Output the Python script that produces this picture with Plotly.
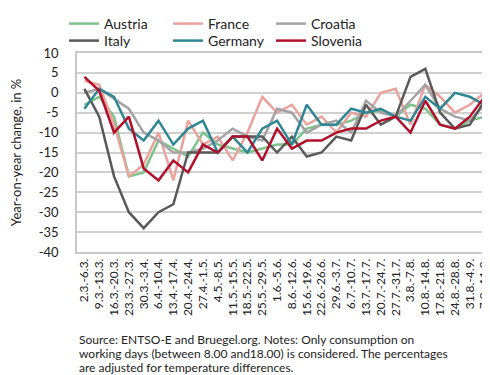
import plotly.graph_objects as go

categories = ["2.3.-6.3.", "9.3.-13.3.", "16.3.-20.3.", "23.3.-27.3.", "30.3.-3.4.", "6.4.-10.4.",
              "13.4.-17.4.", "20.4.-24.4.", "27.4.-1.5.", "4.5.-8.5.", "11.5.-15.5.", "18.5.-22.5.",
              "25.5.-29.5.", "1.6.-5.6.", "8.6.-12.6.", "15.6.-19.6.", "22.6.-26.6.", "29.6.-3.7.",
              "6.7.-10.7.", "13.7.-17.7.", "20.7.-24.7.", "27.7.-31.7.", "3.8.-7.8.", "10.8.-14.8.",
              "17.8.-21.8.", "24.8.-28.8.", "31.8.-4.9.", "7.9.-11.9."]

austria = [-3, -1, -6, -21, -20, -12, -14, -16, -10, -13, -14, -15, -14, -13, -13, -9, -8, -8,
           -7, -5, -4.5, -6, -3, -4, -8, -9, -7, -6]
france = [3, 2, -8, -21, -18, -10, -22, -7, -13, -11, -17, -10, -1, -5, -3, -8, -6, -10,
          -5, -6, 0, 1, -8, 2, -1, -5, -3, 0]
croatia = [0, 1, -1.5, -4, -10, -12, -15, -15, -14, -12, -9, -11, -12, -4, -5, -10, -8, -7,
           -10, -2, -5, -6, -2, 2, -4, -6, -7, -3]
italy = [1, -6, -21, -30, -34, -30, -28, -15, -15, -15, -11, -11, -11, -15, -11, -16, -15, -11,
         -12, -3, -8, -6, 4, 6, -5, -9, -8, -2]
germany = [-4, 1, -1, -9, -12, -7, -13, -9, -7, -15, -11, -15, -9, -7, -13, -3, -8, -8,
           -4, -5, -4, -6, -7, -1, -4, 0, -1, -3]
slovenia = [4, 0.5, -10, -6, -19, -22, -17, -20, -13, -15, -11, -11, -17, -9, -14, -12, -12, -10,
            -9, -9, -7, -6, -10, -2, -8, -9, -6, -1]

y_ticks = [10, 5, 0, -5, -10, -15, -20, -25, -30, -35, -40]
y_ticklabels = ["10", "5", "0", "-5", "-10", "-15", "-20", "-25", "-30", "-35", "-40"]

note_lines = [
    "Source: ENTSO-E and Bruegel.org. Notes: Only consumption on",
    "working days (between 8.00 and18.00) is considered. The percentages",
    "are adjusted for temperature differences.",
]

series_names = ["Austria", "France", "Croatia", "Italy", "Germany", "Slovenia"]
series_values = [austria, france, croatia, italy, germany, slovenia]
series_colors = ["#7dc48c", "#e9a39d", "#a3a3a3", "#595959", "#2f8795", "#b1102b"]

FONT = "Lato"
W, H = 490, 375
ML, MR, MT, MB = 69, 6, 0, 131
PLOT_TOP = 45
paper_h = H - MT - MB          # 244
plot_w = W - ML - MR           # 415


def py(pix):
    """pixel row -> paper y"""
    return (H - MB - pix) / paper_h


def px(pix):
    return (pix - ML) / plot_w


# legend slot layout: 3 columns x 2 rows (pixel left edge / top edge of each legend box)
legend_cols = [56, 160, 263]
legend_rows = [0, 17]

fig = go.Figure()
layout_legends = {}
for i, (name, vals, col) in enumerate(zip(series_names, series_values, series_colors)):
    lg = "legend" if i == 0 else f"legend{i + 1}"
    fig.add_trace(go.Scatter(x=categories, y=vals, mode="lines", name=name, legend=lg,
                             line=dict(color=col, width=2.5)))
    layout_legends[lg] = dict(
        orientation="h", xanchor="left", yanchor="top", xref="paper", yref="paper",
        x=px(legend_cols[i % 3]), y=py(legend_rows[i // 3]),
        font=dict(size=14, family=FONT, color="#222222"),
        itemwidth=30, bgcolor="rgba(0,0,0,0)")

fig.update_layout(
    width=W, height=H,
    margin=dict(l=ML, r=MR, t=MT, b=MB),
    paper_bgcolor="white", plot_bgcolor="white",
    font=dict(family=FONT, color="#222222", size=12),
    showlegend=True,
    **layout_legends,
    xaxis=dict(type="category", range=[-0.5, 27.5], tickangle=-90,
               tickfont=dict(size=12, family=FONT, color="#222222"),
               ticklabeloverflow="allow",
               showgrid=False, showline=True, linecolor="#c8c8c8", linewidth=1.5,
               mirror=True, ticks="", automargin=False),
    yaxis=dict(range=[-40, 10], tickvals=y_ticks, ticktext=y_ticklabels,
               domain=[0, py(PLOT_TOP)],
               tickfont=dict(size=13, family=FONT, color="#222222"),
               showgrid=True, gridcolor="#d0d0d0", gridwidth=1.5,
               showline=True, linecolor="#c8c8c8", linewidth=1.5, mirror=True,
               zeroline=False, ticks="", ticklabelstandoff=14, automargin=False,
               title=dict(text="Year-on-year change, in %",
                          font=dict(size=13, family=FONT, color="#222222"),
                          standoff=28)),
)

for k, line in enumerate(note_lines):
    fig.add_annotation(
        text=line, xref="paper", yref="paper",
        x=0.0, y=py(331 + 14 * k), xanchor="left", yanchor="middle",
        align="left", showarrow=False,
        font=dict(size=12, family=FONT, color="#222222"),
    )

fig.write_html("out.html")
